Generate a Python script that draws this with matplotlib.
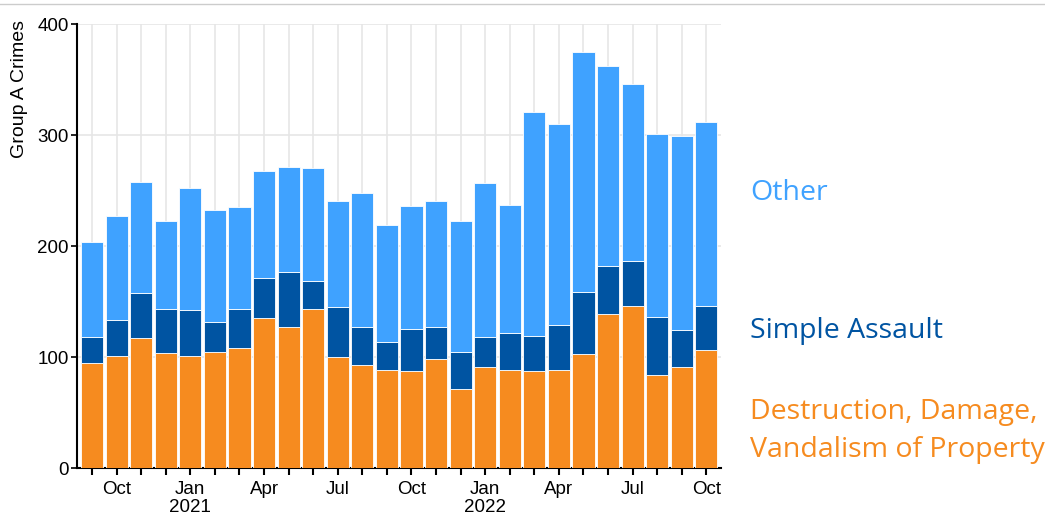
"""Group A crimes per month, stacked by offence type (Sep 2020 - Oct 2022)."""

import numpy as np
import pandas as pd
import matplotlib
matplotlib.use("Agg")
import matplotlib.pyplot as plt
from matplotlib.lines import Line2D

# --- data ----------------------------------------------------------------------
MONTHS = pd.period_range("2020-09", "2022-10", freq="M")
DESTRUCTION = [95, 101, 117, 104, 101, 105, 108, 135, 127, 143, 100, 93, 88,
               87, 98, 71, 91, 88, 87, 88, 103, 139, 146, 84, 91, 106]
SIMPLE_ASSAULT = [23, 32, 41, 39, 41, 27, 35, 36, 50, 26, 45, 34, 26,
                  38, 29, 34, 27, 34, 32, 41, 56, 43, 41, 52, 33, 40]
OTHER = [86, 94, 100, 80, 110, 101, 92, 97, 94, 101, 96, 121, 105,
         111, 114, 118, 139, 115, 202, 181, 216, 180, 159, 165, 175, 166]
SERIES = ["Destruction, Damage,\nVandalism of Property", "Simple Assault", "Other"]

C_ORANGE = "#F68B1F"
C_DARK = "#0054A2"
C_LIGHT = "#3FA2FF"

plt.rcParams["font.family"] = ["Liberation Sans", "DejaVu Sans"]

fig = plt.figure(figsize=(10.45, 5.16), dpi=100)
ax = fig.add_axes([0.074, 0.093, 0.616, 0.86])

x = np.arange(len(MONTHS))
d = np.array(DESTRUCTION)
s = np.array(SIMPLE_ASSAULT)
o = np.array(OTHER)
kw = dict(width=0.9, edgecolor="white", linewidth=0.6, zorder=3)
ax.bar(x, d, color=C_ORANGE, **kw)
ax.bar(x, s, bottom=d, color=C_DARK, **kw)
ax.bar(x, o, bottom=d + s, color=C_LIGHT, **kw)

ax.set_xlim(-0.6, len(MONTHS) - 0.4)
ax.set_ylim(0, 400)
ax.set_yticks([0, 100, 200, 300, 400])

labels = []
for m in MONTHS:
    if m.month == 1:
        labels.append(f"Jan\n{m.year}")
    elif m.month in (4, 7, 10):
        labels.append(m.strftime("%b"))
    else:
        labels.append("")
ax.set_xticks(x)
ax.set_xticklabels(labels, fontsize=13.5, linespacing=1.12)
ax.tick_params(axis="y", labelsize=13.5, length=4, width=1.2, pad=2)
ax.tick_params(axis="x", length=5, width=1.5, pad=4)
ax.set_ylabel("Group A Crimes", fontsize=14)
ax.yaxis.set_label_coords(-0.077, 0.855)

ax.grid(True, color="#e6e6e6", linewidth=1.2, zorder=0)
ax.set_axisbelow(True)
for sp in ("top", "right"):
    ax.spines[sp].set_visible(False)
for sp in ("left", "bottom"):
    ax.spines[sp].set_linewidth(1.5)

# right-hand labels
lab_font = ["Open Sans", "DejaVu Sans"]
fig.text(0.718, 0.626, "Other", color=C_LIGHT, fontsize=20.5, family=lab_font, va="center")
fig.text(0.718, 0.358, "Simple Assault", color=C_DARK, fontsize=20.5, family=lab_font, va="center")
fig.text(0.718, 0.165, SERIES[0], color=C_ORANGE, fontsize=20.5, family=lab_font,
         va="center", linespacing=1.5)

# thin rule across the top of the picture
fig.add_artist(Line2D([0, 1], [0.992, 0.992], color="#cccccc", linewidth=1,
                      transform=fig.transFigure))

fig.savefig("out.png", dpi=100)
